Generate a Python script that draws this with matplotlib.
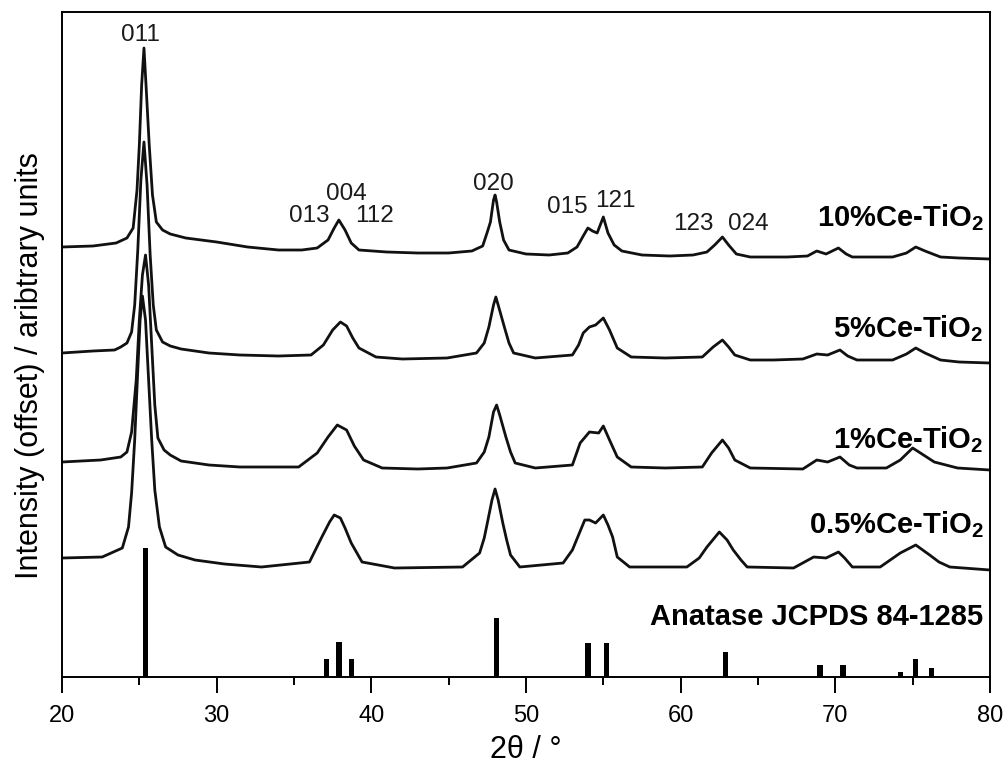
import matplotlib
matplotlib.use("Agg")
import matplotlib.pyplot as plt
from matplotlib.ticker import MultipleLocator

plt.rcParams['font.family'] = ['Liberation Sans', 'DejaVu Sans']
plt.rcParams['mathtext.fontset'] = 'custom'
plt.rcParams['mathtext.rm'] = 'Liberation Sans'
plt.rcParams['mathtext.bf'] = 'Liberation Sans:bold'

# XRD patterns, intensity in arbitrary units (already offset)
tt_10 = [20.0, 22.0, 23.5, 24.2, 24.6, 24.85, 25.0, 25.15, 25.3, 25.45,
         25.64, 25.85, 26.1, 26.5, 27.0, 28.0, 30.0, 32.0, 34.0, 35.5,
         36.5, 37.2, 37.6, 37.9, 38.3, 38.7, 39.2, 41.0, 43.0, 45.0,
         46.5, 47.2, 47.5, 47.7, 47.9, 48.0, 48.1, 48.3, 48.55, 48.9,
         50.0, 51.5, 52.7, 53.3, 53.7, 54.0, 54.3, 54.6, 55.0, 55.3,
         55.7, 56.2, 57.5, 59.3, 60.8, 61.7, 62.2, 62.7, 63.1, 63.6,
         64.5, 66.9, 68.2, 68.8, 69.4, 70.2, 70.7, 71.1, 73.7, 74.6,
         75.2, 75.8, 76.8, 78.0, 80.0]
int_10 = [430, 431, 434, 439, 449, 487, 532, 592, 629, 587,
          532, 482, 455, 447, 443, 439, 435, 430, 427, 427,
          429, 437, 449, 457, 447, 434, 427, 425, 424, 424,
          426, 431, 445, 455, 477, 482, 475, 455, 437, 427,
          423, 422, 424, 430, 441, 449, 446, 444, 460, 444,
          432, 426, 422, 421, 422, 425, 432, 440, 432, 423,
          420, 420, 421, 426, 423, 429, 423, 420, 420, 424,
          430, 426, 420, 419, 418]

tt_5 = [20.0, 22.0, 23.4, 23.8, 24.2, 24.5, 24.7, 24.9, 25.1, 25.3,
        25.5, 25.7, 25.9, 26.1, 26.5, 27.0, 27.7, 29.5, 31.5, 34.0,
        36.1, 36.9, 37.5, 38.0, 38.4, 38.8, 39.2, 40.3, 42.0, 44.9,
        46.8, 47.3, 47.6, 47.9, 48.05, 48.2, 48.6, 48.9, 49.2, 50.6,
        53.0, 53.4, 53.7, 54.1, 54.5, 55.0, 55.4, 55.9, 56.8, 59.0,
        61.4, 62.1, 62.7, 63.1, 63.5, 64.5, 66.0, 67.9, 68.8, 69.5,
        70.3, 70.8, 71.4, 73.7, 74.6, 75.2, 75.8, 76.8, 78.0, 80.0]
int_5 = [324, 326, 327, 330, 334, 345, 372, 427, 497, 535,
         492, 422, 372, 347, 335, 331, 328, 324, 322, 321,
         322, 332, 347, 355, 351, 339, 329, 320, 318, 319,
         324, 334, 350, 372, 380, 372, 350, 334, 324, 319,
         322, 332, 344, 350, 352, 359, 347, 329, 320, 319,
         320, 330, 337, 330, 322, 317, 317, 318, 323, 322,
         327, 321, 317, 317, 323, 329, 324, 317, 315, 314]

tt_1 = [20.0, 22.5, 23.8, 24.2, 24.5, 24.8, 25.0, 25.2, 25.4, 25.6,
        25.8, 26.0, 26.2, 26.6, 27.0, 27.7, 29.5, 31.5, 35.3, 36.5,
        37.2, 37.8, 38.4, 38.9, 39.5, 40.7, 43.0, 44.9, 46.8, 47.3,
        47.6, 47.9, 48.1, 48.3, 48.7, 49.0, 49.3, 50.6, 53.0, 53.5,
        54.1, 54.7, 55.0, 55.4, 55.9, 56.8, 59.0, 61.4, 62.0, 62.7,
        63.1, 63.5, 64.5, 67.9, 68.8, 69.5, 70.3, 70.9, 71.4, 73.3,
        74.2, 75.0, 75.7, 76.4, 77.9, 80.0]
int_1 = [215, 217, 220, 225, 245, 297, 357, 402, 422, 392,
         332, 272, 239, 227, 222, 216, 212, 210, 210, 224,
         240, 252, 247, 231, 217, 209, 208, 209, 214, 225,
         240, 265, 272, 262, 240, 225, 214, 209, 212, 234,
         245, 244, 251, 237, 220, 210, 209, 210, 224, 237,
         229, 217, 209, 208, 217, 215, 220, 212, 209, 209,
         217, 229, 222, 215, 209, 207]

tt_05 = [20.0, 22.6, 23.9, 24.3, 24.5, 24.7, 24.9, 25.05, 25.2, 25.4,
         25.6, 25.8, 26.0, 26.3, 26.7, 27.5, 28.6, 30.5, 32.9, 36.0,
         36.8, 37.3, 37.6, 38.0, 38.3, 38.7, 39.4, 41.5, 45.9, 47.0,
         47.3, 47.5, 47.8, 48.0, 48.2, 48.5, 48.75, 49.0, 49.6, 52.4,
         53.0, 53.4, 53.8, 54.1, 54.5, 55.0, 55.3, 55.6, 55.9, 56.7,
         60.4, 61.2, 61.7, 62.5, 63.0, 63.4, 63.9, 64.3, 67.3, 68.6,
         69.4, 70.2, 70.6, 71.1, 72.9, 74.2, 75.2, 76.1, 76.7, 77.4,
         80.0]
int_05 = [119, 120, 129, 150, 184, 237, 307, 357, 381, 357,
          297, 237, 187, 150, 130, 122, 117, 113, 110, 115,
          140, 155, 162, 159, 149, 134, 115, 109, 110, 124,
          139, 154, 177, 188, 177, 154, 137, 122, 110, 114,
          127, 142, 157, 157, 154, 162, 152, 140, 120, 110,
          110, 119, 130, 145, 137, 127, 117, 110, 109, 120,
          119, 125, 119, 110, 110, 124, 132, 122, 115, 110,
          107]

# Anatase reference pattern (JCPDS 84-1285)
ref_pos = [25.4, 37.1, 37.9, 38.7, 48.1, 54.0, 55.2, 62.9, 69.0, 70.5, 74.2, 75.2, 76.2]
ref_int = [129, 18, 35, 18, 59, 34, 34, 25, 12, 12, 5, 18, 9]

hkl_labels = ['011', '013', '004', '112', '020', '015', '121', '123', '024']
hkl_x = [25.1, 36.0, 38.4, 40.2, 47.9, 52.7, 55.75, 60.85, 64.4]
hkl_y = [642, 461, 483, 461, 493, 470, 476, 453, 453]

sample_names = [r'10%Ce-TiO$_\mathbf{2}$', r'5%Ce-TiO$_\mathbf{2}$',
                r'1%Ce-TiO$_\mathbf{2}$', r'0.5%Ce-TiO$_\mathbf{2}$']
name_y = [451, 340, 229, 144]

fig = plt.figure(figsize=(10.08, 7.67), dpi=100)
ax = fig.add_axes([62 / 1008, 90 / 767, 928 / 1008, 665 / 767])

for tt, inten in [(tt_10, int_10), (tt_5, int_5), (tt_1, int_1), (tt_05, int_05)]:
    ax.plot(tt, inten, color='#111111', lw=2.0, solid_joinstyle='round')

ax.bar(ref_pos, ref_int, width=0.35, color='black', align='center')

for lab, x, y in zip(hkl_labels, hkl_x, hkl_y):
    ax.text(x, y, lab, ha='center', va='center', fontsize=17.5, color='#1a1a1a')

for name, y in zip(sample_names, name_y):
    ax.text(79.6, y, name, ha='right', va='baseline', fontsize=21, fontweight='bold')
ax.text(79.55, 52, 'Anatase JCPDS 84-1285', ha='right', va='baseline',
        fontsize=21, fontweight='bold')

ax.set_xlim(20, 80)
ax.set_ylim(0, 665)
ax.xaxis.set_major_locator(MultipleLocator(10))
ax.xaxis.set_minor_locator(MultipleLocator(5))
ax.tick_params(axis='x', which='major', direction='out', length=11.5, width=1.4,
               labelsize=17, pad=9)
ax.tick_params(axis='x', which='minor', direction='out', length=5.8, width=1.4)
ax.tick_params(axis='y', left=False, labelleft=False)
for sp in ax.spines.values():
    sp.set_linewidth(1.4)

ax.set_xlabel('2\u03b8 / \u00b0', fontsize=22, va='center')
ax.xaxis.set_label_coords(0.5, -0.11)
ax.set_ylabel('Intensity (offset) / aribtrary units', fontsize=22, va='center')
ax.yaxis.set_label_coords(-0.0345, 0.469)

fig.savefig('out.png', dpi=100)
